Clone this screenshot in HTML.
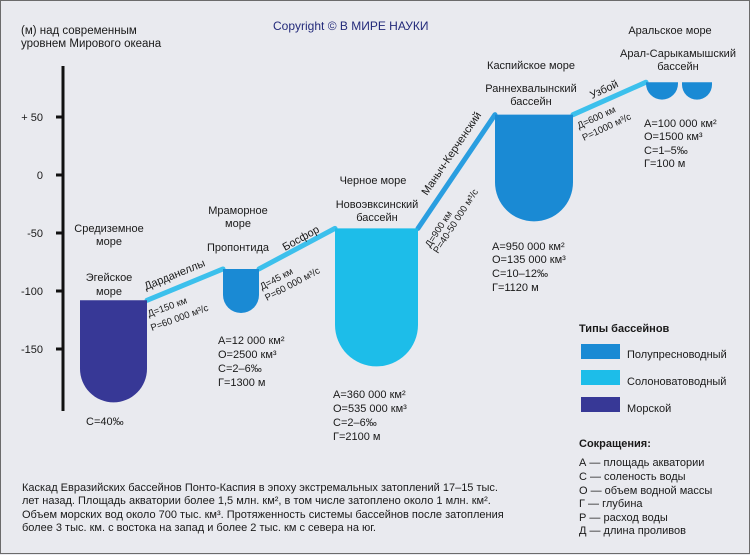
<!DOCTYPE html>
<html><head><meta charset="utf-8">
<style>
html,body{margin:0;padding:0;}
body{width:750px;height:554px;overflow:hidden;background:#e9eaef;font-family:"Liberation Sans",sans-serif;}
#frame{position:absolute;left:0;top:0;width:748px;height:552px;border:1px solid #6b6b6b;background:#e9eaef;}
svg text{font-family:"Liberation Sans",sans-serif;fill:#1a1a1a;}
</style></head>
<body>
<div id="frame">
<svg id="chart" width="750" height="554" style="position:absolute;left:0;top:0">
  <text x="20" y="33" font-size="11.5">(м) над современным</text>
  <text x="20" y="46" font-size="11.5">уровнем Мирового океана</text>
  <text x="272" y="29" font-size="12" style="fill:#232a7a">Copyright © В МИРЕ НАУКИ</text>
  <g id="axis"></g>
  <g id="links"></g>
  <g id="basins"></g>

  <g font-size="11" text-anchor="middle">
    <text x="108" y="231">Средиземное</text>
    <text x="108" y="244">море</text>
    <text x="108" y="280">Эгейское</text>
    <text x="108" y="294">море</text>
    <text x="237" y="213">Мраморное</text>
    <text x="237" y="226">море</text>
    <text x="237" y="250">Пропонтида</text>
    <text x="372" y="183">Черное море</text>
    <text x="376" y="207">Новоэвксинский</text>
    <text x="376" y="220">бассейн</text>
    <text x="530" y="68">Каспийское море</text>
    <text x="530" y="91">Раннехвалынский</text>
    <text x="530" y="104">бассейн</text>
    <text x="669" y="33">Аральское море</text>
    <text x="677" y="56">Арал-Сарыкамышский</text>
    <text x="677" y="69">бассейн</text>
  </g>

  <g font-size="11">
    <text transform="translate(145,289) rotate(-22)">Дарданеллы</text>
    <text transform="translate(148,316) rotate(-20)" font-size="9.5">Д=150 км</text>
    <text transform="translate(151,330) rotate(-20)" font-size="9.5">Р=60 000 м³/с</text>
    <text transform="translate(284,250) rotate(-29)">Босфор</text>
    <text transform="translate(261,289) rotate(-28)" font-size="9.5">Д=45 км</text>
    <text transform="translate(266,300) rotate(-28)" font-size="9.5">Р=60 000 м³/с</text>
    <text transform="translate(426,195) rotate(-56)">Маныч-Керченский</text>
    <text transform="translate(429,247) rotate(-57)" font-size="9.5">Д=900 км</text>
    <text transform="translate(437,253) rotate(-57)" font-size="9.5">Р=40-50 000 м³/с</text>
    <text transform="translate(591,98) rotate(-25)">Узбой</text>
    <text transform="translate(578,128) rotate(-25)" font-size="9.5">Д=600 км</text>
    <text transform="translate(583,140) rotate(-25)" font-size="9.5">Р=1000 м³/с</text>
  </g>

  <g font-size="11">
    <text x="85" y="424">С=40‰</text>
    <g>
      <text x="217" y="343">А=12 000 км²</text><text x="217" y="357">О=2500 км³</text>
      <text x="217" y="371">С=2–6‰</text><text x="217" y="385">Г=1300 м</text></g>
    <g>
      <text x="332" y="397">А=360 000 км²</text><text x="332" y="411">О=535 000 км³</text>
      <text x="332" y="425">С=2–6‰</text><text x="332" y="439">Г=2100 м</text></g>
    <g>
      <text x="491" y="249">А=950 000 км²</text><text x="491" y="262">О=135 000 км³</text>
      <text x="491" y="276">С=10–12‰</text><text x="491" y="290">Г=1120 м</text></g>
    <g>
      <text x="643" y="126">А=100 000 км²</text><text x="643" y="139">О=1500 км³</text>
      <text x="643" y="153">С=1–5‰</text><text x="643" y="166">Г=100 м</text></g>
  </g>

  <g>
    <text x="578" y="331" font-size="11" font-weight="bold">Типы бассейнов</text>
    <rect x="580" y="343" width="39" height="15" fill="#1a8ad4"/>
    <text x="626" y="357" font-size="11">Полупресноводный</text>
    <rect x="580" y="369" width="39" height="15" fill="#1dbde9"/>
    <text x="626" y="384" font-size="11">Солоноватоводный</text>
    <rect x="580" y="396" width="39" height="15" fill="#373896"/>
    <text x="626" y="411" font-size="11">Морской</text>
  </g>
  <g font-size="11">
    <text x="578" y="446" font-weight="bold">Сокращения:</text>
    <text x="578" y="465">А — площадь акватории</text>
    <text x="578" y="479">С — соленость воды</text>
    <text x="578" y="493">О — объем водной массы</text>
    <text x="578" y="506">Г — глубина</text>
    <text x="578" y="520">Р — расход воды</text>
    <text x="578" y="533">Д — длина проливов</text>
  </g>
  <g font-size="11">
    <text x="21" y="490">Каскад Евразийских бассейнов Понто-Каспия в эпоху экстремальных затоплений 17–15 тыс.</text>
    <text x="21" y="503">лет назад. Площадь акватории более 1,5 млн. км², в том числе затоплено около 1 млн. км².</text>
    <text x="21" y="517">Объем морских вод около 700 тыс. км³. Протяженность системы бассейнов после затопления</text>
    <text x="21" y="530">более 3 тыс. км. с востока на запад и более 2 тыс. км с севера на юг.</text>
  </g>
</svg>
</div>
<script>
const basinNames = ["aegean","marmara","black-sea","caspian","aral-1","aral-2"];
const basinLevels = [-108, -81, -46, 52, 80, 80];
const basinBottoms = [-196, -119, -165, -40, 65, 65];
const basinTypes = ["marine","semifresh","brackish","semifresh","semifresh","semifresh"];
const tickValues = [50, 0, -50, -100, -150];
const tickLabels = ["+ 50", "0", "-50", "-100", "-150"];

const basinX = [[79,146],[222,258],[334,417],[494,572],[645,677],[681,711]];
const colors = {marine:"#373896", semifresh:"#1a8ad4", brackish:"#1dbde9"};
function y(v){ return 174 - v*1.16; }
const NS = "http://www.w3.org/2000/svg";
function mk(tag, attrs, parent){ const e=document.createElementNS(NS,tag); for(const k in attrs) e.setAttribute(k,attrs[k]); parent.appendChild(e); return e; }

const axis = document.getElementById('axis');
const ax = mk('line',{x1:62,y1:65,x2:62,y2:410,stroke:'#111','stroke-width':3},axis);


tickValues.forEach((v,i)=>{
  const t = mk('line',{x1:55,x2:62,y1:y(v),y2:y(v),stroke:'#111','stroke-width':3},axis);
  
  
  const l = mk('text',{x:42,y:y(v)+4,'font-size':11,'text-anchor':'end'},axis);
  l.textContent = tickLabels[i];
  
  
});

const links = document.getElementById('links');
const linkPairs = [[0,1],[1,2],[2,3],[3,4]];
const linkColors = ["#3cc0ec","#3cc0ec","#2a9ee0","#3cc0ec"];
linkPairs.forEach((p,i)=>{
  const a=p[0], b=p[1];
  const ln = mk('line',{x1:basinX[a][1],y1:y(basinLevels[a]),x2:basinX[b][0],y2:y(basinLevels[b]),stroke:linkColors[i],'stroke-width':5,'stroke-linecap':'round'},links);
  
  
});

const basins = document.getElementById('basins');
basinNames.forEach((n,i)=>{
  const x0=basinX[i][0], x1=basinX[i][1], w=x1-x0;
  const top=y(basinLevels[i]), bot=y(basinBottoms[i]);
  const r=Math.min(w/2, bot-top);
  const d=`M${x0},${top} H${x1} V${bot-r} A${w/2},${r} 0 0 1 ${x0},${bot-r} Z`;
  const p = mk('path',{d:d,fill:colors[basinTypes[i]]},basins);
  
  
});
</script>
</body></html>
